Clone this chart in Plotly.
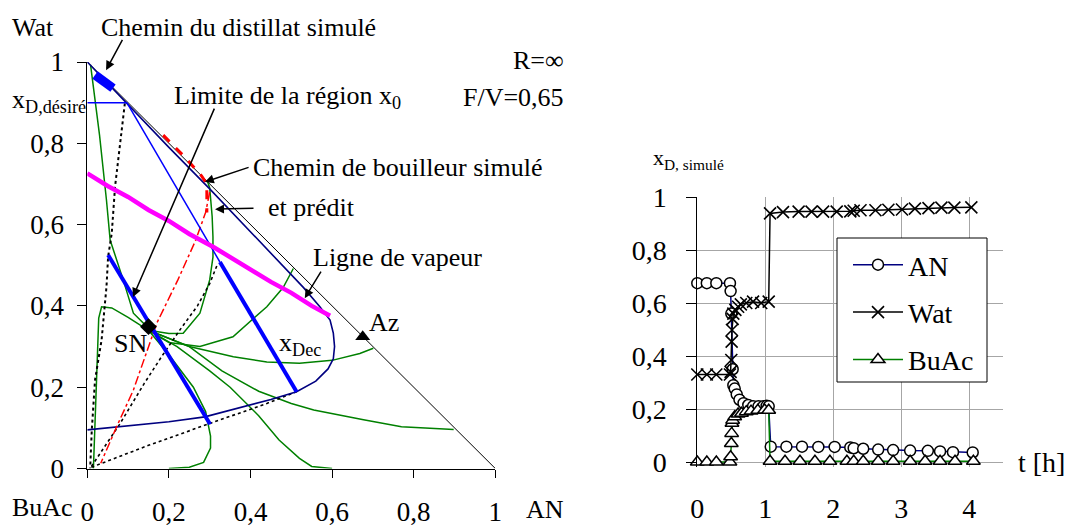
import plotly.graph_objects as go

FONT = "Liberation Serif"
W, H = 1068, 527

# ---------------- Left: ternary diagram (x = AN, y = Wat) ----------------
hyp_x = [0.0, 1.0]
hyp_y = [1.0, 0.0]

dist_x = [0.019, 0.063]            # simulated distillate path
dist_y = [0.968, 0.936]

xdes_x = [0.0, 0.097]              # x_D,desired level
xdes_y = [0.9, 0.9]

dec_thin_x = [0.097, 0.325]
dec_thin_y = [0.9, 0.508]
dec_x = [0.325, 0.513]             # x_Dec
dec_y = [0.508, 0.189]

lim_x = [0.051, 0.301]             # limit of region x0
lim_y = [0.525, 0.109]

vap_x = [0.0, 0.05, 0.1, 0.15, 0.2, 0.25, 0.309, 0.36, 0.4, 0.45, 0.5, 0.55, 0.595]
vap_y = [0.726, 0.695, 0.668, 0.636, 0.609, 0.577, 0.545, 0.513, 0.491, 0.459, 0.432, 0.400, 0.376]

navy_x = [0.0, 0.1, 0.2, 0.3, 0.4, 0.47, 0.53, 0.57, 0.595, 0.603, 0.606, 0.603, 0.59, 0.56, 0.513, 0.45, 0.37, 0.288, 0.2, 0.1, 0.0]
navy_y = [1.0, 0.895, 0.79, 0.688, 0.583, 0.507, 0.445, 0.398, 0.365, 0.333, 0.30, 0.27, 0.245, 0.215, 0.189, 0.17, 0.148, 0.127, 0.115, 0.105, 0.095]

red_sim_x = [0.186, 0.24, 0.28, 0.293, 0.293]
red_sim_y = [0.82, 0.765, 0.72, 0.70, 0.63]
red_pred_x = [0.30, 0.29, 0.265, 0.222, 0.17, 0.113, 0.072, 0.033]
red_pred_y = [0.68, 0.63, 0.56, 0.464, 0.357, 0.193, 0.103, 0.013]

dot_a_x = [0.092, 0.08, 0.068, 0.06, 0.051, 0.047, 0.043, 0.035, 0.019, 0.011, 0.007]
dot_a_y = [0.898, 0.80, 0.693, 0.579, 0.521, 0.447, 0.398, 0.316, 0.218, 0.095, 0.0]
dot_b_x = [0.01, 0.15, 0.301, 0.382, 0.44, 0.513]
dot_b_y = [0.003, 0.057, 0.111, 0.14, 0.16, 0.189]
dot_c_x = [0.01, 0.08, 0.14, 0.182, 0.227, 0.27, 0.30, 0.32]
dot_c_y = [0.005, 0.11, 0.21, 0.275, 0.341, 0.40, 0.455, 0.505]

g1_x = [0.008, 0.03, 0.047, 0.056, 0.088, 0.113, 0.146]
g1_y = [0.993, 0.82, 0.66, 0.562, 0.464, 0.382, 0.349]
g2_x = [0.15, 0.1, 0.06, 0.035, 0.028, 0.024, 0.02, 0.017, 0.015]
g2_y = [0.34, 0.372, 0.395, 0.398, 0.37, 0.25, 0.12, 0.04, 0.0]
g3_x = [0.15, 0.2, 0.235, 0.276, 0.30, 0.308, 0.308, 0.306, 0.30, 0.295]
g3_y = [0.34, 0.332, 0.333, 0.382, 0.464, 0.52, 0.57, 0.62, 0.69, 0.705]
g4_x = [0.15, 0.2, 0.276, 0.357, 0.44, 0.48, 0.505]
g4_y = [0.34, 0.31, 0.30, 0.324, 0.398, 0.445, 0.492]
g5_x = [0.15, 0.25, 0.358, 0.44, 0.52, 0.6, 0.668, 0.701]
g5_y = [0.34, 0.30, 0.275, 0.262, 0.259, 0.266, 0.283, 0.296]
g6_x = [0.15, 0.25, 0.33, 0.42, 0.5, 0.555, 0.677, 0.77, 0.898]
g6_y = [0.34, 0.30, 0.24, 0.19, 0.16, 0.144, 0.12, 0.103, 0.096]
g7_x = [0.15, 0.22, 0.30, 0.35, 0.42, 0.47, 0.52, 0.55, 0.6]
g7_y = [0.34, 0.30, 0.24, 0.20, 0.13, 0.07, 0.025, 0.005, 0.0]
g8_x = [0.15, 0.2, 0.26, 0.29, 0.302, 0.302, 0.285, 0.25, 0.2]
g8_y = [0.34, 0.28, 0.20, 0.14, 0.08, 0.05, 0.015, 0.003, 0.0]
green_x = [g1_x, g2_x, g3_x, g4_x, g5_x, g6_x, g7_x, g8_x]
green_y = [g1_y, g2_y, g3_y, g4_y, g5_y, g6_y, g7_y, g8_y]

sn_x, sn_y = [0.15], [0.349]
az_x, az_y = [0.675], [0.324]

tern_ticks = [0, 0.2, 0.4, 0.6, 0.8, 1]
tern_ticktext = ["0", "0,2", "0,4", "0,6", "0,8", "1"]

# ---------------- Right: distillate composition vs time ----------------
t_an = [0, 0.14, 0.28, 0.48, 0.49, 0.50, 0.52, 0.53, 0.55, 0.58, 0.62, 0.68, 0.75, 0.82, 0.90, 0.97, 1.02, 1.05,
        1.08, 1.31, 1.54, 1.78, 2.02, 2.25, 2.30, 2.44, 2.66, 2.88, 3.13, 3.39, 3.57, 3.76, 4.05]
an = [0.675, 0.675, 0.675, 0.675, 0.645, 0.56, 0.35, 0.29, 0.277, 0.255, 0.235, 0.222, 0.215, 0.21, 0.21, 0.21, 0.212, 0.21,
      0.058, 0.058, 0.058, 0.057, 0.057, 0.055, 0.052, 0.05, 0.047, 0.045, 0.043, 0.042, 0.04, 0.037, 0.036]

t_wat = [0, 0.14, 0.28, 0.48, 0.49, 0.50, 0.505, 0.51, 0.52, 0.53, 0.56, 0.6, 0.64, 0.72, 0.82, 0.94, 1.05,
         1.07, 1.26, 1.49, 1.68, 1.85, 2.05, 2.25, 2.30, 2.40, 2.62, 2.81, 3.01, 3.20, 3.40, 3.59, 3.78, 4.03]
wat = [0.33, 0.33, 0.33, 0.33, 0.34, 0.385, 0.454, 0.498, 0.54, 0.56, 0.574, 0.586, 0.595, 0.6, 0.605, 0.6, 0.605,
       0.938, 0.943, 0.945, 0.945, 0.945, 0.945, 0.946, 0.948, 0.95, 0.95, 0.952, 0.953, 0.956, 0.958, 0.96, 0.96, 0.961]

t_buac = [0, 0.14, 0.28, 0.48, 0.49, 0.50, 0.505, 0.51, 0.52, 0.55, 0.6, 0.65, 0.72, 0.79, 0.89, 0.99, 1.05,
          1.07, 1.29, 1.51, 1.73, 1.95, 2.2, 2.3, 2.44, 2.66, 2.88, 3.13, 3.35, 3.57, 3.79, 4.06]
buac = [0, 0, 0, 0, 0.02, 0.07, 0.108, 0.146, 0.158, 0.171, 0.181, 0.184, 0.19, 0.192, 0.195, 0.196, 0.195,
        0.003, 0.003, 0.003, 0.003, 0.003, 0.003, 0.003, 0.003, 0.003, 0.003, 0.003, 0.003, 0.003, 0.003, 0.003]

time_ticks = [0, 1, 2, 3, 4]
time_ticktext = ["0", "1", "2", "3", "4"]
comp_ticks = [0, 0.2, 0.4, 0.6, 0.8, 1]
comp_ticktext = ["0", "0,2", "0,4", "0,6", "0,8", "1"]

fig = go.Figure()


def line(x, y, color, width, dash="solid", xa="x", ya="y"):
    fig.add_trace(go.Scatter(x=x, y=y, mode="lines", xaxis=xa, yaxis=ya, showlegend=False,
                             hoverinfo="skip", line=dict(color=color, width=width, dash=dash)))


line(hyp_x, hyp_y, "black", 1)
for gx, gy in zip(green_x, green_y):
    line(gx, gy, "#008000", 1.5)
line(dot_a_x, dot_a_y, "black", 2, "dot")
line(dot_b_x, dot_b_y, "black", 1.6, "dot")
line(dot_c_x, dot_c_y, "black", 1.6, "dot")
line(navy_x, navy_y, "#000080", 1.6)
line(red_pred_x, red_pred_y, "red", 1.5, "dashdot")
line(red_sim_x, red_sim_y, "red", 3, "dash")
line(xdes_x, xdes_y, "blue", 1.5)
line(dec_thin_x, dec_thin_y, "blue", 1.5)
line(dec_x, dec_y, "blue", 4)
line(lim_x, lim_y, "blue", 4)
line(vap_x, vap_y, "#ff00ff", 4.5)
line(dist_x, dist_y, "blue", 9)

fig.add_trace(go.Scatter(x=sn_x, y=sn_y, mode="markers", showlegend=False, hoverinfo="skip",
                         marker=dict(symbol="diamond", size=13, color="black")))
fig.add_trace(go.Scatter(x=az_x, y=az_y, mode="markers", showlegend=False, hoverinfo="skip",
                         marker=dict(symbol="triangle-up", size=13, color="black")))

# right chart series
fig.add_trace(go.Scatter(x=t_an, y=an, name="AN", legendgroup="a", mode="lines+markers", xaxis="x2", yaxis="y2",
                         line=dict(color="#000080", width=1.5), cliponaxis=False,
                         marker=dict(symbol="circle", size=11, color="white", line=dict(color="black", width=1.5))))
fig.add_trace(go.Scatter(x=t_wat, y=wat, name="Wat", legendgroup="b", mode="lines+markers", xaxis="x2", yaxis="y2",
                         line=dict(color="black", width=1.5), cliponaxis=False,
                         marker=dict(symbol="x-thin", size=12, color="black", line=dict(color="black", width=1.6))))
fig.add_trace(go.Scatter(x=t_buac, y=buac, name="BuAc", legendgroup="c", mode="lines+markers", xaxis="x2", yaxis="y2",
                         line=dict(color="#008000", width=1.5), cliponaxis=False,
                         marker=dict(symbol="triangle-up", size=12, color="white", line=dict(color="black", width=1.5))))

ann = []


def txt(px, py, s, xanchor="left", size=26):
    # positioned in page pixels (converted to paper fractions)
    ann.append(dict(x=px / W, y=1 - py / H, xref="paper", yref="paper", text=s, showarrow=False,
                    xanchor=xanchor, yanchor="middle", font=dict(family=FONT, size=size, color="black")))


def arrow(x, y, ax, ay):
    ann.append(dict(x=x, y=y, ax=ax, ay=ay, xref="x", yref="y", axref="x", ayref="y", text="",
                    showarrow=True, arrowhead=2, arrowsize=1.2, arrowwidth=1.5, arrowcolor="black"))


txt(10, 27, "Wat")
txt(99, 27, "Chemin du distillat simulé")
txt(566, 60, "R=∞", "right")
txt(10, 101, "x<sub>D,désiré</sub>")
txt(172, 97, "Limite de la région x<sub>0</sub>")
txt(566, 97, "F/V=0,65", "right")
txt(251, 167, "Chemin de bouilleur simulé")
txt(266, 207, "et prédit")
txt(311, 258, "Ligne de vapeur")
txt(130, 343, "SN", "center")
txt(277, 344, "x<sub>Dec</sub>")
txt(367, 322, "Az")
txt(10, 507, "BuAc")
txt(524, 509, "AN")
txt(1016, 462, "t [h]", "left", 28)
txt(651, 159, "x<sub>D, simulé</sub>", "left", 22)

arrow(0.046, 0.980, 0.088, 1.058)
arrow(0.112, 0.422, 0.313, 0.889)
arrow(0.288, 0.705, 0.399, 0.742)
arrow(0.313, 0.638, 0.411, 0.640)
arrow(0.533, 0.419, 0.575, 0.488)

axis_common = dict(showgrid=False, zeroline=False, showline=True, linecolor="black", linewidth=1,
                   ticks="outside", tickcolor="black", tickwidth=1, automargin=False,
                   tickfont=dict(family=FONT, size=27, color="black"))

# legend frame
shapes = [dict(type="rect", xref="paper", yref="paper", x0=837 / W, x1=987 / W, y0=1 - 382 / H, y1=1 - 238 / H,
               line=dict(color="black", width=1), fillcolor="white", layer="above")]

fig.update_layout(
    template="none",
    width=W, height=H, margin=dict(l=0, r=0, t=0, b=0, autoexpand=False),
    paper_bgcolor="white", plot_bgcolor="white",
    font=dict(family=FONT, color="black"),
    xaxis=dict(domain=[87.3 / W, 495.3 / W], range=[0, 1], anchor="y", tickvals=tern_ticks, ticktext=tern_ticktext,
               ticklen=8, ticklabelstandoff=11, **axis_common),
    yaxis=dict(domain=[1 - 468.5 / H, 1 - 62 / H], range=[0, 1], anchor="x", tickvals=tern_ticks,
               ticktext=tern_ticktext, ticklen=9, ticklabelstandoff=8, **axis_common),
    xaxis2=dict(domain=[697.3 / W, 1003.3 / W], range=[0, 4.5], anchor="y2", tickvals=time_ticks,
                ticktext=time_ticktext, showline=False, zeroline=False, showgrid=True, gridcolor="#a6a6a6",
                gridwidth=1, ticks="", automargin=False, ticklabelstandoff=22,
                tickfont=dict(family=FONT, size=28, color="black")),
    yaxis2=dict(domain=[1 - 467.3 / H, 1 - 197 / H], range=[-0.02, 1], anchor="x2", tickvals=comp_ticks,
                ticktext=comp_ticktext, showline=True, linecolor="black", linewidth=1, zeroline=False,
                showgrid=True, gridcolor="#a6a6a6", gridwidth=1, ticks="outside", ticklen=10, tickcolor="black",
                automargin=False, ticklabelstandoff=14, tickfont=dict(family=FONT, size=28, color="black")),
    legend=dict(x=848 / W, y=1 - 240 / H, xanchor="left", yanchor="top", borderwidth=0,
                bgcolor="rgba(0,0,0,0)", font=dict(family=FONT, size=28, color="black"), tracegroupgap=8,
                traceorder="grouped", itemwidth=50),
    shapes=shapes,
    annotations=ann,
)

fig.write_html("out.html", config={"displayModeBar": False},
               post_script="document.body.style.margin='0';")
